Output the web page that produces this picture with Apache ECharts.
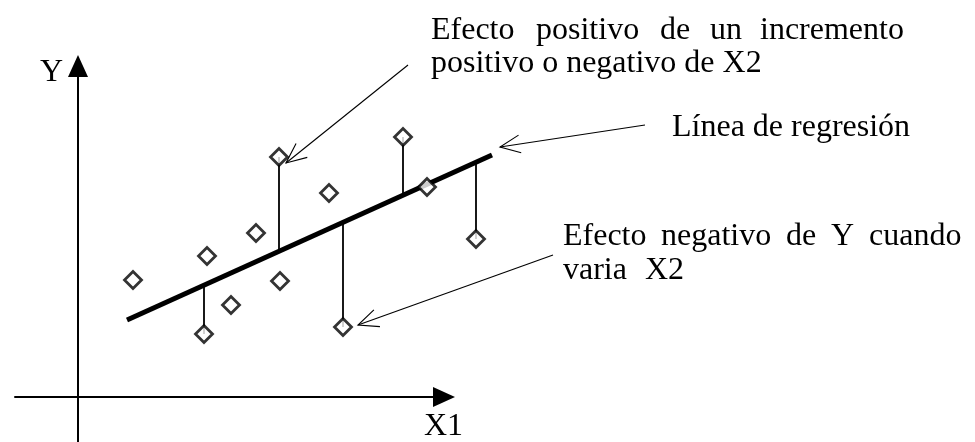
<!DOCTYPE html>
<html><head><meta charset="utf-8">
<script src="https://cdn.jsdelivr.net/npm/echarts@6/dist/echarts.min.js"></script>
<style>html,body{margin:0;padding:0;background:#fff}#c{width:975px;height:442px}</style>
</head><body><div id="c"></div>
<script>
// Observations (arbitrary units, origin at the axes crossing)
const pointsX = [1.375, 3.15, 3.225, 3.825, 4.45, 5.025, 5.05, 6.275, 6.625, 8.125, 8.725, 9.95];
const pointsY = [2.925, 1.575, 3.525, 2.3, 4.1, 6.0, 2.9, 5.1, 1.75, 6.5, 5.25, 3.95];
// Regression line end points
const regressionX = [1.225, 10.35];
const regressionY = [1.925, 6.05];
// Vertical residual segments (point -> regression line)
const stemX = [3.15, 5.025, 6.625, 8.125, 9.95];
const stemFromY = [1.575, 6.0, 1.75, 6.5, 3.95];
const stemToY = [2.78, 3.65, 4.37, 5.05, 5.86];
// Annotation arrows (from text -> to target)
const arrowFromX = [8.25, 14.175, 11.875];
const arrowFromY = [8.3, 6.8, 3.55];
const arrowToX = [5.2, 10.55, 7.0];
const arrowToY = [5.85, 6.25, 1.8];
// Axis names
const yAxisName = 'Y';
const xAxisName = 'X1';

const FONT = '"Liberation Serif", "Times New Roman", serif';
const FS = 32;

const scatterData = pointsX.map((x, i) => [x, pointsY[i]]);
const regressionData = [[regressionX[0], regressionY[0], regressionX[1], regressionY[1]]];
const stemData = stemX.map((x, i) => [x, stemFromY[i], stemToY[i]]);
const arrowData = arrowFromX.map((x, i) => [x, arrowFromY[i], arrowToX[i], arrowToY[i]]);

function txt(text, x, y) {
  return { type: 'text', left: x, top: y, style: { text: text, font: FS + 'px ' + FONT, fill: '#000' } };
}

const chart = echarts.init(document.getElementById('c'), null, { renderer: 'canvas' });
chart.setOption({
  animation: false,
  backgroundColor: '#fff',
  grid: { left: 15, right: 531, top: 66, bottom: 0, containLabel: false },
  xAxis: {
    type: 'value', min: -1.575, max: 9.15,
    axisLine: { show: true, onZero: true, symbol: ['none', 'triangle'], symbolSize: [20, 22], lineStyle: { color: '#000', width: 2 } },
    axisTick: { show: false }, axisLabel: { show: false }, splitLine: { show: false }
  },
  yAxis: {
    type: 'value', min: -1.125, max: 8.275,
    axisLine: { show: true, onZero: true, symbol: ['none', 'triangle'], symbolSize: [20, 22], lineStyle: { color: '#000', width: 2 } },
    axisTick: { show: false }, axisLabel: { show: false }, splitLine: { show: false }
  },
  graphic: [
    txt(yAxisName, 40, 57),
    txt(xAxisName, 424, 411),
    txt('Efecto', 431, 15),
    txt('positivo', 536, 15),
    txt('de', 660, 15),
    txt('un', 710, 15),
    txt('incremento', 760, 15),
    txt('positivo o negativo de X2', 431, 48),
    txt('Línea de regresión', 672, 112),
    txt('Efecto', 563, 221),
    txt('negativo', 661, 221),
    txt('de', 786, 221),
    txt('Y', 831, 221),
    txt('cuando', 869, 221),
    txt('varia', 563, 255),
    txt('X2', 645, 255)
  ],
  series: [
    {
      type: 'custom', z: 2, clip: false,
      data: stemData,
      renderItem: function (params, api) {
        const a = api.coord([api.value(0), api.value(1)]);
        const b = api.coord([api.value(0), api.value(2)]);
        return { type: 'line', shape: { x1: a[0], y1: a[1], x2: b[0], y2: b[1] }, style: { stroke: '#000', lineWidth: 1.8 } };
      }
    },
    {
      type: 'custom', z: 3, clip: false,
      data: regressionData,
      renderItem: function (params, api) {
        const a = api.coord([api.value(0), api.value(1)]);
        const b = api.coord([api.value(2), api.value(3)]);
        return { type: 'line', shape: { x1: a[0], y1: a[1], x2: b[0], y2: b[1] }, style: { stroke: '#000', lineWidth: 5, lineCap: 'butt' } };
      }
    },
    {
      type: 'scatter', z: 5, clip: false, data: scatterData,
      symbol: 'diamond', symbolSize: [17, 17],
      itemStyle: { color: '#fff', borderColor: '#000', borderWidth: 2.8 }
    },
    {
      type: 'custom', z: 4, clip: false,
      data: arrowData,
      renderItem: function (params, api) {
        const s = api.coord([api.value(0), api.value(1)]);
        const t = api.coord([api.value(2), api.value(3)]);
        const ang = Math.atan2(s[1] - t[1], s[0] - t[0]);
        const L = 22, da = 24 * Math.PI / 180;
        const w1 = [t[0] + L * Math.cos(ang + da), t[1] + L * Math.sin(ang + da)];
        const w2 = [t[0] + L * Math.cos(ang - da), t[1] + L * Math.sin(ang - da)];
        const st = { stroke: '#000', lineWidth: 1.1, fill: null };
        return {
          type: 'group', children: [
            { type: 'line', shape: { x1: s[0], y1: s[1], x2: t[0], y2: t[1] }, style: st },
            { type: 'polyline', shape: { points: [w1, t, w2] }, style: st }
          ]
        };
      }
    }
  ]
});
</script>
</body></html>
